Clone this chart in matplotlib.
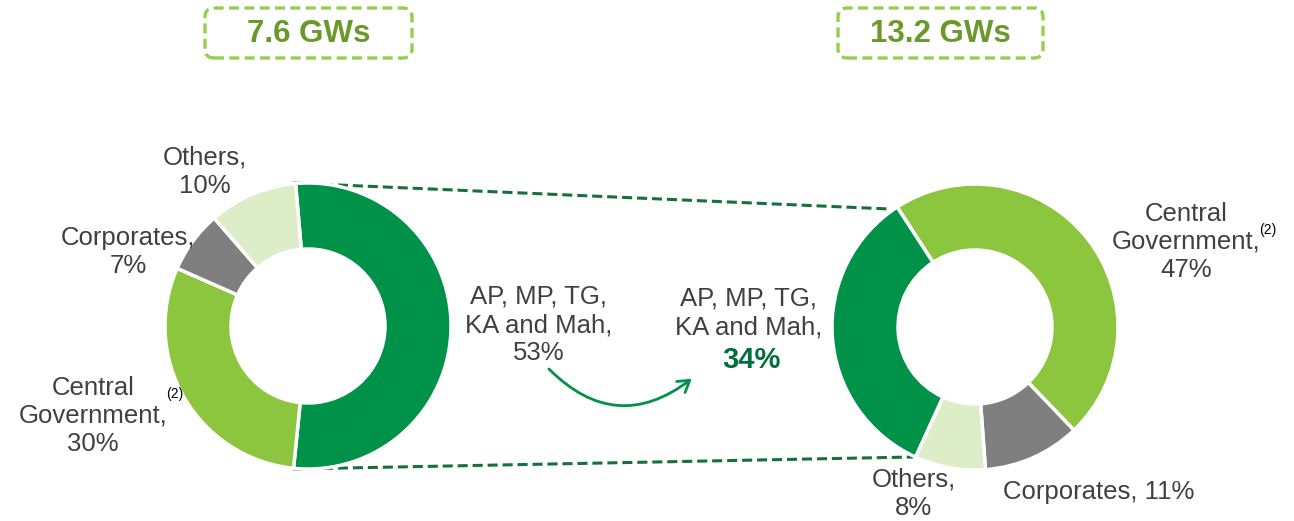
import matplotlib
matplotlib.use("Agg")
from matplotlib import pyplot as plt
from matplotlib.patches import FancyBboxPatch, FancyArrowPatch

W, H = 1294, 521

# data
left_labels = ["AP, MP, TG, KA and Mah", "Central Government", "Corporates", "Others"]
left_values = [53, 30, 7, 10]
right_labels = ["Central Government", "Corporates", "Others", "AP, MP, TG, KA and Mah"]
right_values = [47, 11, 8, 34]
titles = ["7.6 GWs", "13.2 GWs"]

DARK = "#009248"
LIGHT = "#8CC63F"
GRAY = "#7F7F7F"
PALE = "#DDEDC8"
TXT = "#404040"
left_colors = [DARK, LIGHT, GRAY, PALE]
right_colors = [LIGHT, GRAY, PALE, DARK]

plt.rcParams['font.family'] = ['Liberation Sans', 'DejaVu Sans']

fig = plt.figure(figsize=(W / 100, H / 100), dpi=100)
ax = fig.add_axes([0, 0, 1, 1])

def Y(y):
    return H - y

wp = dict(width=66, edgecolor="white", linewidth=2.5)
ax.pie(left_values, colors=left_colors, startangle=95, counterclock=False,
       center=(308, Y(326)), radius=143, wedgeprops=wp, frame=True)
ax.pie(right_values, colors=right_colors, startangle=123, counterclock=False,
       center=(975, Y(327)), radius=143, wedgeprops=wp, frame=True)

ax.set_xlim(0, W)
ax.set_ylim(0, H)
ax.set_aspect("auto")
ax.axis("off")

# connecting dashed lines
lc = "#17703C"
ax.plot([293, 890], [Y(183), Y(209)], color=lc, lw=2.2, ls=(0, (3.3, 1.6)), zorder=0)
ax.plot([293, 913], [Y(469), Y(457)], color=lc, lw=2.2, ls=(0, (3.3, 1.6)), zorder=0)

# title boxes
for (x0, x1), t in zip([(205, 412), (838, 1043)], titles):
    box = FancyBboxPatch((x0, Y(58)), x1 - x0, 50,
                         boxstyle="round,pad=0,rounding_size=9",
                         fc="none", ec="#92D050", lw=2.4, ls=(0, (3, 1.6)))
    ax.add_patch(box)
    ax.text((x0 + x1) / 2, Y(34), t, ha="center", va="center",
            fontsize=22.5, fontweight="bold", color="#6A992B")

fs = 18.5
ls = 1.22
ax.text(205, Y(172), "Others,\n10%", ha="center", va="center", fontsize=fs,
        color=TXT, linespacing=ls)
ax.text(128, Y(252), "Corporates,\n7%", ha="center", va="center", fontsize=fs,
        color=TXT, linespacing=ls)
ax.text(93, Y(416), "Central\nGovernment,\n30%", ha="center", va="center",
        fontsize=fs, color=TXT, linespacing=ls)
ax.text(175, Y(394), "(2)", ha="center", va="center", fontsize=10, color="black")
ax.text(539, Y(325), "AP, MP, TG,\nKA and Mah,\n53%", ha="center", va="center",
        fontsize=fs, color=TXT, linespacing=ls)
ax.text(749, Y(313), "AP, MP, TG,\nKA and Mah,", ha="center", va="center",
        fontsize=fs, color=TXT, linespacing=ls)
ax.text(751, Y(360), "34%", ha="center", va="center", fontsize=21,
        fontweight="bold", color="#00703C")
ax.text(1186, Y(242), "Central\nGovernment,\n47%", ha="center", va="center",
        fontsize=fs, color=TXT, linespacing=ls)
ax.text(1268, Y(230), "(2)", ha="center", va="center", fontsize=10, color="black")
ax.text(914, Y(494), "Others,\n8%", ha="center", va="center", fontsize=fs,
        color=TXT, linespacing=ls)
ax.text(1099, Y(492), "Corporates, 11%", ha="center", va="center", fontsize=fs,
        color=TXT)

arrow = FancyArrowPatch((547, Y(367)), (694, Y(377)),
                        connectionstyle="arc3,rad=0.45", arrowstyle="->,head_length=8,head_width=5",
                        color="#009248", lw=2)
ax.add_patch(arrow)

fig.savefig("out.png", dpi=100)
